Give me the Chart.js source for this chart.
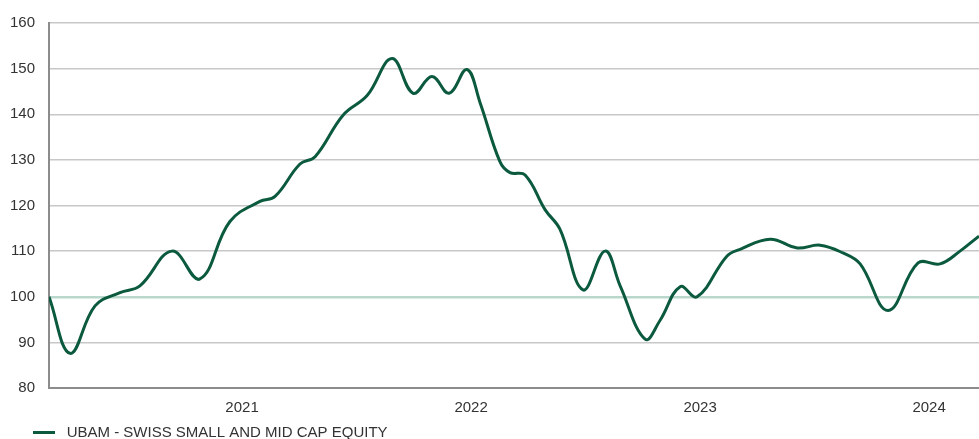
<!DOCTYPE html>
<html>
<head>
<meta charset="utf-8">
<script src="https://cdn.jsdelivr.net/npm/chart.js@4.4.1/dist/chart.umd.min.js"></script>
<style>
  html, body { margin: 0; padding: 0; background: #fff; overflow: hidden; }
  #wrap { width: 979px; height: 439px; position: relative; }
</style>
</head>
<body>
<div id="wrap"><canvas id="perfChart"></canvas></div>
<script>
const seriesName = 'UBAM - SWISS SMALL AND MID CAP EQUITY';

// dates as decimal years
const dates = [
    2020.157, 2020.249, 2020.358, 2020.467, 2020.554, 2020.694, 2020.816, 2020.947,
    2021.078, 2021.144, 2021.253, 2021.319, 2021.441, 2021.546, 2021.655, 2021.747,
    2021.829, 2021.904, 2021.982, 2022.039, 2022.126, 2022.170, 2022.236, 2022.323,
    2022.388, 2022.489, 2022.585, 2022.651, 2022.760, 2022.825, 2022.913, 2022.987,
    2023.117, 2023.175, 2023.306, 2023.424, 2023.524, 2023.624, 2023.699, 2023.821,
    2023.952, 2024.048, 2024.135, 2024.218
];
const values = [
    100.0, 87.6, 98.0, 100.9, 102.4, 110.0, 103.9, 116.5,
    120.9, 122.0, 129.1, 130.7, 139.8, 144.1, 152.2, 144.6,
    148.3, 144.6, 149.8, 142.6, 129.6, 127.2, 126.7, 119.1,
    114.8, 101.5, 110.0, 102.4, 90.7, 94.8, 102.2, 100.0,
    108.9, 110.4, 112.6, 110.7, 111.3, 109.6, 107.2, 97.0,
    107.4, 107.2, 110.0, 113.3
];

const xTicks = [2021, 2022, 2023, 2024];
const yTicks = [80, 90, 100, 110, 120, 130, 140, 150, 160];

const lineColor = '#0b5a3e';
const font = { family: "'Liberation Sans', Arial, Helvetica, sans-serif", size: 15 };

// move the legend a little to the right, like the original
const legendShift = {
    id: 'legendShift',
    afterLayout(chart) {
        chart.legend.left = 23;
    }
};

const ctx = document.getElementById('perfChart').getContext('2d');
new Chart(ctx, {
    type: 'line',
    data: {
        datasets: [{
            label: seriesName,
            data: dates.map((d, i) => ({ x: d, y: values[i] })),
            borderColor: lineColor,
            backgroundColor: lineColor,
            borderWidth: 3,
            pointRadius: 0,
            tension: 0.4,
            fill: false
        }]
    },
    options: {
        responsive: true,
        maintainAspectRatio: false,
        animation: false,
        layout: { padding: { left: 0, right: 0, top: 17, bottom: -11 } },
        scales: {
            x: {
                type: 'linear',
                min: dates[0],
                max: dates[dates.length - 1],
                afterBuildTicks: scale => { scale.ticks = xTicks.map(v => ({ value: v })); },
                afterFit: scale => { scale.height = 27; },
                ticks: {
                    color: '#333',
                    font: font,
                    padding: 11,
                    maxRotation: 0,
                    callback: v => String(v)
                },
                grid: { display: false, drawTicks: false },
                border: { display: true, color: '#8c8c8c', width: 2 }
            },
            y: {
                min: 80,
                max: 160,
                afterBuildTicks: scale => { scale.ticks = yTicks.map(v => ({ value: v })); },
                afterFit: scale => { scale.width = 49; },
                ticks: { color: '#333', font: font, padding: 14 },
                grid: {
                    drawTicks: false,
                    lineWidth: ctx => ctx.tick && ctx.tick.value === 100 ? 2.5 : 1.5,
                    color: ctx => ctx.tick && ctx.tick.value === 100 ? '#b9d7cb' : '#c8c8c8'
                },
                border: { display: true, color: '#8c8c8c', width: 2 }
            }
        },
        plugins: {
            legend: {
                display: true,
                position: 'bottom',
                align: 'start',
                labels: {
                    color: '#333',
                    font: font,
                    usePointStyle: true,
                    pointStyle: 'line',
                    pointStyleWidth: 22,
                    boxHeight: 3,
                    padding: 10,
                    generateLabels: chart => Chart.defaults.plugins.legend.labels.generateLabels(chart)
                        .map(item => Object.assign(item, { text: ' ' + item.text }))
                }
            },
            tooltip: { enabled: false }
        }
    },
    plugins: [legendShift]
});
</script>
</body>
</html>
